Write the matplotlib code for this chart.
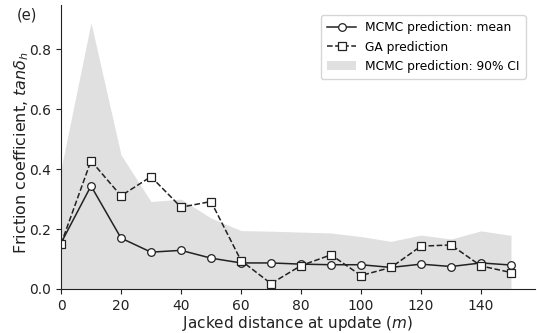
import numpy as np
import matplotlib
matplotlib.use("Agg")
import matplotlib.pyplot as plt

# jacked distance (m) and friction coefficient values
dist = [0, 10, 20, 30, 40, 50, 60, 70, 80, 90, 100, 110, 120, 130, 140, 150]
mcmc_mean = [0.153, 0.344, 0.170, 0.123, 0.129, 0.103, 0.087, 0.087, 0.083, 0.081,
             0.081, 0.072, 0.083, 0.075, 0.087, 0.080]
ga_pred = [0.150, 0.428, 0.311, 0.375, 0.273, 0.292, 0.095, 0.018, 0.078, 0.114,
           0.045, 0.072, 0.143, 0.147, 0.077, 0.055]
ci_upper = [0.40, 0.889, 0.448, 0.292, 0.300, 0.237, 0.195, 0.193, 0.190, 0.187,
            0.175, 0.159, 0.180, 0.167, 0.194, 0.179]
ci_lower = [0.0, 0.0, 0.0, 0.0, 0.0, 0.0, 0.0, 0.0, 0.0, 0.0,
            0.0, 0.0, 0.0, 0.0, 0.0, 0.0]

fig = plt.figure(figsize=(5.37, 3.33), dpi=100)
ax = fig.add_axes([61 / 537, 1 - 289 / 333, 474 / 537, 284 / 333])

ax.fill_between(dist, ci_lower, ci_upper, color="#e0e0e0", linewidth=0,
                label="MCMC prediction: 90% CI")
ax.plot(dist, mcmc_mean, "-o", color="#222222", lw=1.1, ms=5.5,
        mfc="white", mec="#222222", mew=0.9, label="MCMC prediction: mean")
ax.plot(dist, ga_pred, "--s", color="#222222", lw=1.1, ms=5.5,
        mfc="white", mec="#222222", mew=0.9, label="GA prediction")

ax.set_xlim(0, 158)
ax.set_ylim(0, 0.948)
ax.set_xticks([0, 20, 40, 60, 80, 100, 120, 140])
ax.set_yticks([0.0, 0.2, 0.4, 0.6, 0.8])
ax.tick_params(labelsize=10, color="#222222", labelcolor="#222222", length=3.5)
for s in ["top", "right"]:
    ax.spines[s].set_visible(False)
for s in ["left", "bottom"]:
    ax.spines[s].set_color("#222222")

ax.set_xlabel("Jacked distance at update ($m$)", fontsize=11, color="#222222", labelpad=1)
ax.set_ylabel(r"Friction coefficient, $tan\delta_h$", fontsize=11.5, color="#222222")
ax.yaxis.set_label_coords(-0.064, 0.482)

h, l = ax.get_legend_handles_labels()
order = [1, 2, 0]
ax.legend([h[i] for i in order], [l[i] for i in order], loc="upper right",
          fontsize=8.8, frameon=True, edgecolor="#cccccc", handlelength=2.4,
          handletextpad=0.7, labelspacing=0.5, borderpad=0.5,
          bbox_to_anchor=(0.993, 0.985))

fig.text(17 / 537, 1 - 15 / 333, "(e)", fontsize=10.5, color="#222222", va="center")

fig.savefig("out.png", dpi=100)
